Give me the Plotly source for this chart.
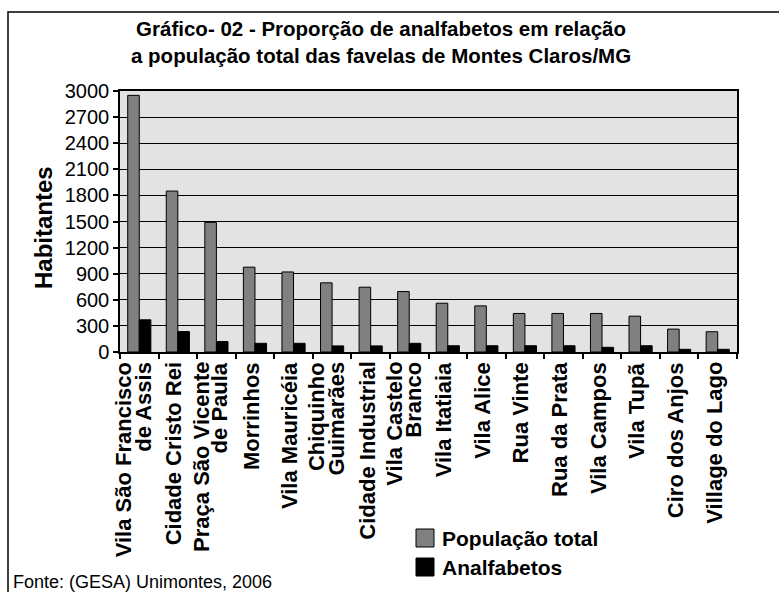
import plotly.graph_objects as go

categories = [
    "Vila São Francisco\nde Assis",
    "Cidade Cristo Rei",
    "Praça São Vicente\nde Paula",
    "Morrinhos",
    "Vila Mauricéia",
    "Chiquinho\nGuimarães",
    "Cidade Industrial",
    "Vila Castelo\nBranco",
    "Vila Itatiaia",
    "Vila Alice",
    "Rua Vinte",
    "Rua da Prata",
    "Vila Campos",
    "Vila Tupã",
    "Ciro dos Anjos",
    "Village do Lago",
]
populacao_total = [2950, 1850, 1490, 975, 920, 795, 745, 695, 561, 530, 443, 443, 443, 412, 263, 233]
analfabetos = [370, 235, 120, 100, 100, 70, 70, 100, 72, 72, 72, 72, 54, 72, 31, 31]
y_ticks = [0, 300, 600, 900, 1200, 1500, 1800, 2100, 2400, 2700, 3000]

title_text = "Gráfico- 02 - Proporção de analfabetos em relação<br>a população total das favelas de Montes Claros/MG"
y_title = "Habitantes"
source_text = "Fonte: (GESA) Unimontes, 2006"
legend_names = ["População total", "Analfabetos"]

FONT = "Liberation Sans, Arial, sans-serif"
W, H = 779, 592
ML, MR, MT, MB = 120, 42, 91, 240
PW, PH = W - ML - MR, H - MT - MB


def px(x):
    return (x - ML) / PW


def py(y):
    return (H - MB - y) / PH


cat_keys = [c.replace("\n", " ") for c in categories]

fig = go.Figure()
fig.add_trace(go.Bar(
    x=cat_keys, y=populacao_total, name=legend_names[0],
    marker=dict(color="#808080", line=dict(color="#000000", width=1)),
    showlegend=False,
))
fig.add_trace(go.Bar(
    x=cat_keys, y=analfabetos, name=legend_names[1],
    marker=dict(color="#000000", line=dict(color="#000000", width=1)),
    showlegend=False,
))

annotations = []
# category labels (rotated, lines right-aligned toward the axis)
for key, label in zip(cat_keys, categories):
    lines = label.split("\n")
    shifts = [-4] if len(lines) == 1 else [-15.5, 3.5]
    for line, shift in zip(lines, shifts):
        annotations.append(dict(
            x=key, xref="x", y=0, yref="paper", yanchor="top", xanchor="center",
            yshift=-8, xshift=shift, text="<b>" + line + "</b>", textangle=-90,
            showarrow=False, font=dict(family=FONT, size=22, color="#000000"),
        ))

annotations.append(dict(
    x=px(381), y=py(15), xref="paper", yref="paper", xanchor="center", yanchor="top",
    text="<b>" + title_text + "</b>", showarrow=False, align="center",
    font=dict(family=FONT, size=20.5, color="#000000"),
))
annotations.append(dict(
    x=px(43), y=py(228), xref="paper", yref="paper", xanchor="center", yanchor="middle",
    text="<b>" + y_title + "</b>", textangle=-90, showarrow=False,
    font=dict(family=FONT, size=24, color="#000000"),
))
annotations.append(dict(
    x=px(11), y=py(582), xref="paper", yref="paper", xanchor="left", yanchor="middle",
    text=source_text, showarrow=False,
    font=dict(family=FONT, size=18, color="#000000"),
))
# legend
leg_colors = ["#808080", "#000000"]
leg_y = [538, 567]
shapes = []
for name, col, yc in zip(legend_names, leg_colors, leg_y):
    shapes.append(dict(type="rect", xref="paper", yref="paper",
                       x0=px(416), x1=px(434), y0=py(yc - 9), y1=py(yc + 9),
                       fillcolor=col, line=dict(color="#000000", width=1)))
    annotations.append(dict(
        x=px(440), y=py(yc), xref="paper", yref="paper", xanchor="left", yanchor="middle",
        text="<b>" + name + "</b>", showarrow=False,
        font=dict(family=FONT, size=21, color="#000000"),
    ))
# outer frame (left and top edges visible)
shapes.append(dict(type="rect", xref="paper", yref="paper", layer="below",
                   x0=px(8), x1=px(900), y0=py(12), y1=py(700),
                   fillcolor="rgba(0,0,0,0)", line=dict(color="#000000", width=1.5)))

fig.update_layout(
    width=W, height=H,
    margin=dict(l=ML, r=MR, t=MT, b=MB, pad=0),
    paper_bgcolor="#ffffff", plot_bgcolor="#e3e3e3",
    barmode="group", bargap=0.4, bargroupgap=0,
    font=dict(family=FONT, color="#000000"),
    annotations=annotations, shapes=shapes,
    showlegend=False,
)
fig.update_xaxes(
    type="category", range=[-0.5, len(cat_keys) - 0.5], autorange=False,
    showticklabels=False, ticks="outside", ticklen=5, tickwidth=1.5,
    tickcolor="#000000", tickson="boundaries", showline=True, linecolor="#000000",
    linewidth=1.5, mirror=True, showgrid=False,
)
fig.update_yaxes(
    range=[0, 3000], autorange=False, tickvals=y_ticks, ticktext=[str(v) for v in y_ticks],
    ticks="outside", ticklen=5, tickwidth=1.5, tickcolor="#000000",
    showline=True, linecolor="#000000", linewidth=1.5, mirror=True,
    showgrid=True, gridcolor="#000000", gridwidth=1.2, zeroline=False,
    tickfont=dict(family=FONT, size=20, color="#000000"),
)

fig.write_html("out.html")
